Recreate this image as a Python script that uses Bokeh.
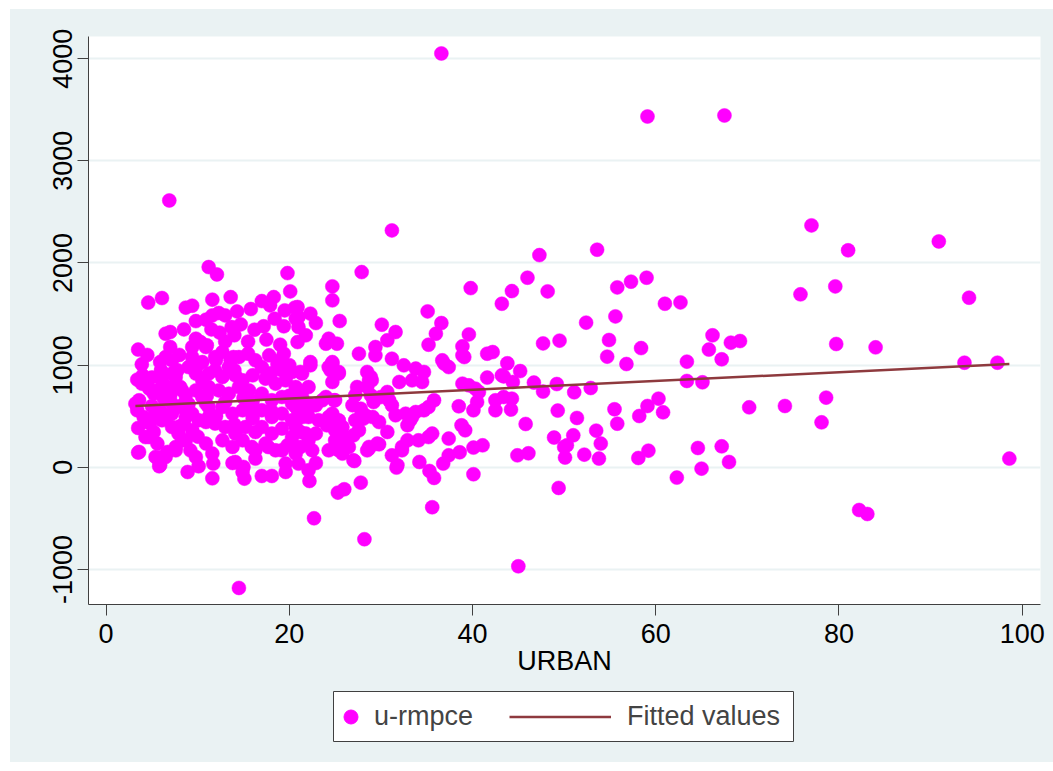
from bokeh.plotting import figure
from bokeh.layouts import column
from bokeh.models import Range1d, Legend, LegendItem, FixedTicker
from bokeh.embed import file_html
from bokeh.resources import INLINE

# Urban share (%) and u-rmpce per observation
urban = [
    36.6, 59.1, 67.5, 6.9, 31.2, 77.0, 90.9, 81.0, 53.6, 47.3,
    46.0, 44.3, 48.2, 43.2, 55.8, 57.3, 59.0, 61.0, 62.7, 52.4, 55.6, 47.7, 49.5, 54.9, 54.7, 56.8, 58.4,
    66.2, 65.8, 67.2, 68.2, 69.2, 63.4, 63.4, 65.1, 70.2,
    43.8, 45.2, 43.4, 44.4, 46.7, 47.7, 49.2, 51.1, 52.9, 43.4, 44.3, 44.2, 49.3, 51.4, 45.8, 55.5, 55.8,
    58.2, 59.1, 60.3, 60.8, 48.9, 51.0, 50.0, 50.3, 50.1, 52.2, 53.5, 54.0, 53.8, 44.9, 46.1, 58.1, 59.2,
    62.3, 64.6, 65.0, 67.2, 68.0, 49.4, 45.0,
    75.8, 79.6, 94.2, 79.7, 84.0, 93.7, 97.3, 74.1, 78.6, 78.1, 98.6, 82.2, 83.1,
    14.5, 22.7, 28.2, 35.6, 25.3, 26.0, 27.8, 40.1, 35.8, 35.3, 22.2, 11.6, 15.1, 17.0, 18.1, 19.6, 8.9,
    5.8, 3.5, 11.7, 10.1, 27.1, 31.7, 34.2, 36.8, 38.6, 40.1, 41.1, 28.7, 29.8, 31.2, 32.3, 37.4, 22.9,
    22.1, 25.8, 13.8, 14.9, 5.8, 6.5, 7.6, 19.6, 21.0,
    37.4, 39.2, 38.8, 38.5, 40.1, 40.5, 40.7, 41.6, 42.5, 42.5, 43.2, 38.9, 39.6, 36.9, 37.4, 38.9, 41.6,
    42.2, 34.1, 35.2, 35.6, 32.9, 32.3, 31.8, 33.2, 33.8, 34.7, 35.2, 35.8, 32.9, 30.7, 29.6, 29.8, 29.1,
    28.3, 31.6, 31.2, 30.9, 32.0, 30.7, 30.0, 29.2, 28.9, 28.7, 28.9, 27.4, 27.2, 27.8, 28.1, 27.6, 27.0,
    25.4, 25.0, 25.4, 27.0, 28.5, 24.5, 24.7, 25.4, 24.7, 27.6, 29.4, 31.2, 32.5, 33.8, 34.7, 33.4, 34.5,
    22.3, 21.2, 22.1, 21.4, 22.9, 21.0, 22.1, 23.2, 24.1, 22.9, 22.1, 21.2, 22.5, 25.4, 26.1, 24.3, 24.7,
    24.0, 24.9,
    11.2, 12.1, 19.8, 20.1, 4.6, 6.1, 8.7, 9.4, 11.6, 13.6, 14.3, 15.8, 17.0, 18.3, 17.9, 19.5, 20.6,
    9.8, 10.9, 11.6, 12.3, 13.0, 12.4, 13.7, 14.7, 14.0, 16.2, 17.2, 18.4, 19.4, 20.7, 20.9, 6.5, 7.0,
    3.5, 7.0, 9.4, 10.3, 10.9, 12.7, 13.9, 15.5, 17.8, 19.0, 19.4,
    3.9, 3.4, 3.9, 3.2, 3.5, 3.6, 4.7, 5.2, 5.9, 6.5, 7.2, 4.8, 4.7, 5.6, 6.1, 6.7, 7.6, 8.3, 5.9, 6.5,
    7.2, 7.6, 8.1, 8.7, 9.8, 11.0, 9.0, 9.8, 10.5, 11.2, 9.4, 10.1, 11.2, 11.9, 9.4, 8.5, 7.9, 8.7, 9.2,
    9.8, 10.9, 11.6, 11.9, 13.6, 14.5, 11.9, 12.7, 13.4, 14.1, 14.9, 12.3, 13.4, 14.5, 15.6, 12.7, 13.8,
    14.9, 15.9, 13.0, 14.1, 15.2, 16.3, 12.7, 13.8, 14.9, 15.9, 14.1, 15.0, 16.3, 16.3, 17.0, 18.7, 19.2,
    17.4, 18.5, 19.6, 20.7, 17.0, 18.1, 19.2, 20.3, 21.4, 17.0, 18.1, 19.2, 20.3, 21.4, 17.0, 18.1, 19.2,
    20.3, 21.2, 17.4, 18.5, 19.8, 20.7, 7.2, 7.8, 6.1, 6.3, 7.2, 7.9, 8.5, 10.5, 9.8, 10.9, 11.2,
    24.7, 24.7, 22.3, 22.9, 25.5, 30.1, 31.6, 30.7, 35.1, 36.6, 36.0, 35.2, 39.8, 39.6, 38.9, 39.1, 21.8,
    21.0, 24.3, 25.2, 24.0, 29.4, 24.3, 25.4, 28.5, 29.0, 28.5, 40.3, 20.7, 22.1, 23.6, 25.0, 26.9, 24.3,
    25.8, 27.2, 27.9, 25.0, 26.5, 28.7, 32.7, 33.4, 20.7, 21.8,
    27.9, 20.9, 21.0, 22.3, 24.7, 36.7,
    9.4, 10.5, 20.3, 21.4, 5.6, 6.8, 8.3, 11.2, 3.6, 3.4, 4.1, 5.4, 6.1, 7.2, 8.7, 10.9, 4.3, 5.2, 5.4,
    5.9, 16.3, 17.7, 19.2, 20.7,
    8.0, 10.0, 12.0, 14.0, 16.0, 16.0, 18.0, 20.0, 22.0, 13.0, 15.0, 11.0, 9.0, 7.0, 5.0, 4.0, 6.0,
    8.0, 10.0, 12.0, 14.0, 16.0, 18.0, 20.0, 19.0, 5.0, 4.5, 13.0, 17.5, 8.5, 15.5, 11.5,
]

u_rmpce = [
    4051, 3434, 3444, 2612, 2319, 2368, 2211, 2124, 2130, 2077,
    1856, 1725, 1722, 1601, 1761, 1817, 1856, 1601, 1614, 1416, 1477, 1213, 1240, 1246, 1083, 1011, 1167,
    1292, 1152, 1057, 1220, 1236, 1034, 845, 832, 587,
    1018, 942, 890, 835, 829, 741, 815, 734, 776, 688, 672, 565, 555, 483, 424, 568, 427,
    502, 600, 672, 538, 291, 313, 199, 215, 95, 124, 359, 232, 85, 117, 137, 91, 163,
    -101, 189, -13, 205, 52, -202, -969,
    1693, 1771, 1660, 1207, 1174, 1024, 1024, 600, 682, 440, 85, -418, -457,
    -1181, -499, -704, -391, -248, -215, -150, -68, -104, -36, -134, -108, -111, -85, -85, -46, -46,
    10, 144, 36, 10, 62, -3, 52, 36, 147, 193, 215, 183, 225, 117, 166, 117, 42,
    -29, 134, 42, -46, 68, 101, 166, 36, 36,
    281, 362, 411, 597, 558, 639, 737, 878, 656, 558, 900, 819, 802, 1015, 981, 1096, 1112,
    1128, 264, 296, 330, 264, 199, 20, 460, 541, 558, 590, 656, 411, 346, 232, 443, 492,
    509, 509, 607, 656, 835, 737, 688, 639, 705, 851, 884, 786, 705, 574, 476, 362, 313,
    460, 362, 166, 68, 166, 949, 1015, 917, 835, 1112, 1096, 1063, 998, 966, 933, 851, 835,
    998, 933, 786, 656, 607, 541, 492, 460, 411, 330, 264, 199, 166, 232, 296, 166, 525,
    688, 656,
    1960, 1888, 1901, 1722, 1612, 1657, 1563, 1582, 1641, 1666, 1526, 1549, 1627, 1666, 1585, 1536, 1563,
    1431, 1445, 1487, 1510, 1487, 1318, 1373, 1399, 1292, 1347, 1380, 1455, 1380, 1455, 1226, 1308, 1324,
    1152, 1177, 1177, 1226, 1177, 1128, 1079, 1112, 1096, 1200, 1112,
    1008, 858, 819, 623, 385, 150, 770, 721, 1030, 1079, 1047, 428, 296, 232, 101, 150, 199, 264, 558, 476,
    394, 884, 786, 705, 1259, 1194, 981, 917, 851, 917, 525, 460, 492, 428, 362, 428, 330, 264, 166,
    101, 232, 134, 1079, 1047, 1079, 949, 884, 981, 900, 851, 753, 721, 786, 753, 590, 525,
    558, 590, 394, 330, 394, 345, 264, 199, 264, 199, 52, 3, 85, 1047, 981, 1015, 949,
    868, 819, 851, 786, 721, 656, 688, 623, 688, 558, 492, 525, 460, 492, 394, 330, 379,
    296, 345, 232, 166, 215, 134, 917, 949, 851, 672, 623, 590, 623, 688, 753, 623, 590,
    1771, 1634, 1504, 1412, 1432, 1396, 1324, 1243, 1526, 1412, 1308, 1200, 1754, 1301, 1184, 1079, 1292,
    1373, 1259, 1210, 1210, 1177, 981, 933, 933, 851, 786, 770, 590, 623, 656, 656, 607, 492,
    394, 460, 525, 264, 199, 199, 525, 492, 394, 330,
    1911, 1569, 1471, 1030, 1030, 1047,
    1079, 1030, 933, 917, 753, 786, 753, 786, 656, 558, 492, 525, 460, 525, 492, 443, 296, 345, 101,
    20, 166, 199, 166, 199,
    400, 300, 500, 420, 480, 650, 560, 700, 560, 640, 680, 700, 620, 700, 600, 900, 950,
    1100, 1000, 1050, 950, 900, 920, 1000, 1050, 880, 1100, 1230, 1250, 1350, 1230, 1350,
]

# OLS fit of u-rmpce on URBAN
fit_intercept = 586.0
fit_slope = 4.31

x_ticks = [0, 20, 40, 60, 80, 100]
y_ticks = [-1000, 0, 1000, 2000, 3000, 4000]

BG = "#EAF2F3"
AXIS = "#404040"
FONT = "Liberation Sans"
FS = "27px"

p = figure(
    width=1043, height=679,
    x_range=Range1d(-1.92, 102.0), y_range=Range1d(-1343, 4217),
    output_backend="svg", toolbar_location=None,
    min_border_left=78, min_border_right=13, min_border_top=27, min_border_bottom=84,
)
p.frame_align = False
p.background_fill_color = "white"
p.border_fill_color = BG
p.outline_line_color = None

p.xgrid.visible = False
p.ygrid.grid_line_color = BG
p.ygrid.grid_line_width = 2

for ax in (p.xaxis[0], p.yaxis[0]):
    ax.axis_line_color = AXIS
    ax.major_tick_line_color = AXIS
    ax.major_tick_out = 11
    ax.major_tick_in = 0
    ax.minor_tick_line_color = None
    ax.major_label_text_font = FONT
    ax.major_label_text_font_size = FS
    ax.major_label_text_color = "black"

p.xaxis.ticker = FixedTicker(ticks=x_ticks)
p.yaxis.ticker = FixedTicker(ticks=y_ticks)
p.yaxis.major_label_overrides = {-1000: "-1000"}
p.yaxis.major_label_orientation = "vertical"
p.xaxis.major_label_standoff = 8
p.yaxis.major_label_standoff = 5
p.xaxis.axis_label = "URBAN"
p.xaxis.axis_label_text_font = FONT
p.xaxis.axis_label_text_font_size = FS
p.xaxis.axis_label_text_font_style = "normal"
p.xaxis.axis_label_text_color = "black"
p.xaxis.axis_label_standoff = 0

pts = p.scatter(urban, u_rmpce, size=14, fill_color="#FF00FF", line_color="#FF00FF", line_width=0.5)
x0, x1 = min(urban), max(urban)
fit = p.line([x0, x1], [fit_intercept + fit_slope * x0, fit_intercept + fit_slope * x1],
             line_color="#8E3A3E", line_width=2.5)

# legend strip under the chart: its plot frame is the legend box
lg = figure(
    width=1043, height=74,
    x_range=Range1d(0, 1), y_range=Range1d(0, 1),
    output_backend="svg", toolbar_location=None,
    x_axis_type=None, y_axis_type=None,
    min_border_left=323, min_border_right=260, min_border_top=3, min_border_bottom=21,
)
lg.frame_align = False
lg.background_fill_color = "white"
lg.border_fill_color = BG
lg.outline_line_color = AXIS
lg.outline_line_width = 1
lg.xgrid.visible = False
lg.ygrid.visible = False

# key glyphs kept outside the visible range; only their legend swatches show
key_pts = lg.scatter([-5], [-5], size=14, fill_color="#FF00FF", line_color="#FF00FF")
key_fit = lg.line([-5, -4], [-5, -5], line_color="#8E3A3E", line_width=2.5)

common = dict(border_line_color=None, background_fill_alpha=0, padding=0, margin=0,
              label_text_font=FONT, label_text_font_size=FS, glyph_height=35, spacing=0)
leg_a = Legend(items=[LegendItem(label="u-rmpce", renderers=[key_pts])], location=(0, 7),
               glyph_width=35, label_standoff=6, **common)
leg_b = Legend(items=[LegendItem(label="Fitted values", renderers=[key_fit])], location=(176, 7),
               glyph_width=102, label_standoff=16, **common)
lg.add_layout(leg_a)
lg.add_layout(leg_b)

page = column(p, lg, spacing=0)
page.styles = {"margin-left": "10px", "margin-top": "9px", "background-color": BG}

open("out.html", "w").write(file_html(page, INLINE))
